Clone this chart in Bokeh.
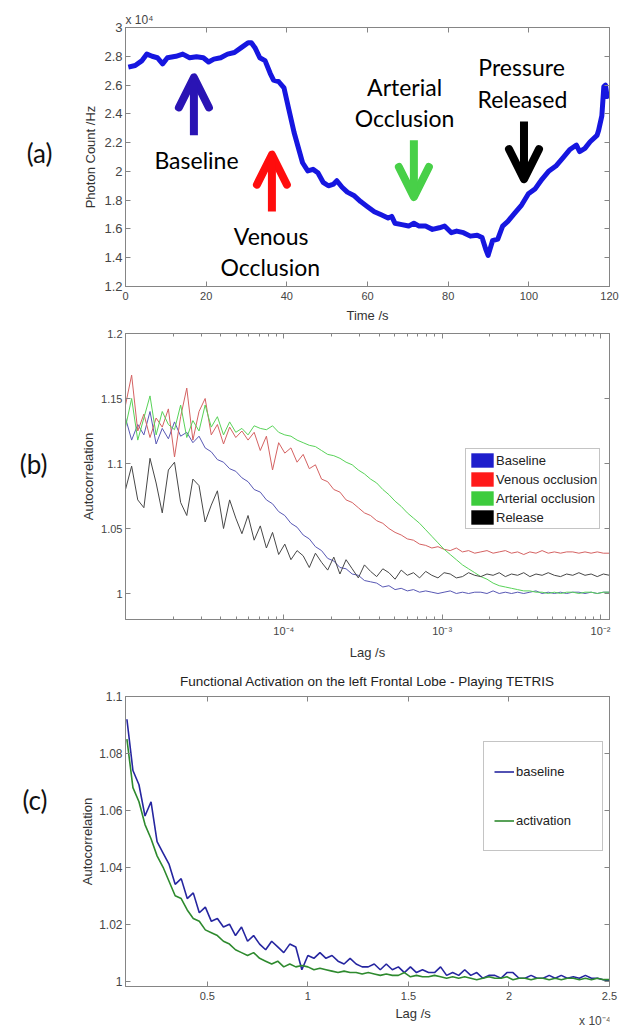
import numpy as np
from bokeh.plotting import figure
from bokeh.layouts import column
from bokeh.models import (FixedTicker, CustomJSTickFormatter, LinearAxis, LogAxis, Axis,
                          Legend, LegendItem, Arrow, OpenHead)
from bokeh.core.properties import value
from bokeh.embed import file_html
from bokeh.resources import INLINE

# ---------------- Panel (a): photon count vs time (units of 1e4 Hz) ----------------
time_s = [0.7, 2.4, 4.1, 5.3, 6.6, 7.9, 9.2, 10.4, 12.5, 14.2,
          15.9, 17.6, 19.3, 20.6, 21.9, 23.6, 25.3, 27.0, 28.7, 30.4,
          31.2, 32.1, 33.3, 34.6, 35.9, 36.7, 38.0, 39.3, 40.5, 41.8,
          43.1, 43.9, 45.2, 46.5, 47.7, 49.0, 50.3, 51.6, 52.4, 53.7,
          55.0, 56.6, 58.3, 60.0, 61.7, 63.4, 65.1, 66.0, 66.8, 68.5,
          70.2, 71.5, 72.8, 74.4, 76.1, 77.8, 79.1, 80.8, 82.1, 83.8,
          85.5, 87.2, 88.4, 89.3, 89.9, 91.0, 92.3, 93.5, 94.8, 96.5,
          98.2, 99.9, 101.6, 103.3, 105.0, 106.7, 108.4, 110.1, 111.8, 112.6,
          113.9, 115.2, 116.9, 117.3, 118.1, 118.6, 119.0, 119.4, 119.8]
photon_1e4 = [2.725, 2.736, 2.77, 2.815, 2.80, 2.79, 2.747, 2.79, 2.80, 2.815,
              2.79, 2.797, 2.79, 2.76, 2.78, 2.79, 2.815, 2.826, 2.86, 2.894,
              2.894, 2.86, 2.79, 2.77, 2.68, 2.635, 2.623, 2.58, 2.43, 2.27,
              2.14, 2.06, 2.003, 2.014, 1.99, 1.924, 1.90, 1.912, 1.935, 1.89,
              1.856, 1.833, 1.79, 1.755, 1.72, 1.698, 1.676, 1.687, 1.64, 1.63,
              1.62, 1.64, 1.62, 1.62, 1.597, 1.608, 1.62, 1.574, 1.585, 1.574,
              1.55, 1.556, 1.54, 1.46, 1.416, 1.518, 1.53, 1.62, 1.653, 1.71,
              1.766, 1.845, 1.88, 1.947, 2.003, 2.037, 2.093, 2.15, 2.183, 2.138,
              2.16, 2.206, 2.25, 2.285, 2.386, 2.59, 2.60, 2.52, 2.555]

a_xticks = [0, 20, 40, 60, 80, 100, 120]
a_yticks = [1.2, 1.4, 1.6, 1.8, 2.0, 2.2, 2.4, 2.6, 2.8, 3.0]

# annotation arrows (data units): x, tail, tip, colour
arrow_x = [16.96, 36.3, 71.5, 98.8]
arrow_tail = [2.251, 1.721, 2.217, 2.346]
arrow_tip = [2.653, 2.116, 1.822, 1.946]
arrow_color = ["#2a14b4", "#ff0d0d", "#48d048", "#000000"]

note_text = ["Baseline", "Venous", "Occlusion", "Arterial", "Occlusion", "Pressure", "Released"]
note_x = [17.6, 36.1, 35.9, 69.2, 69.2, 98.2, 98.4]
note_y = [2.082, 1.552, 1.337, 2.589, 2.368, 2.725, 2.504]

# ---------------- Panel (b): autocorrelation vs log lag ----------------
lag_b = 10 ** np.linspace(-5.0, -1.943, 80)
b_baseline = [1.135, 1.118, 1.130, 1.122, 1.140, 1.115, 1.127, 1.119, 1.132, 1.121,
              1.124, 1.116, 1.121, 1.112, 1.109, 1.103, 1.101, 1.096, 1.094, 1.089,
              1.086, 1.080, 1.078, 1.072, 1.069, 1.063, 1.060, 1.054, 1.051, 1.045,
              1.042, 1.036, 1.033, 1.027, 1.025, 1.020, 1.019, 1.015, 1.014, 1.010,
              1.009, 1.008, 1.005, 1.006, 1.003, 1.004, 1.002, 1.003, 1.001, 1.002,
              1.001, 1.000, 1.001, 1.002, 1.000, 1.001, 1.000, 1.001, 1.001, 1.000,
              1.002, 1.000, 1.001, 1.000, 1.001, 1.000, 1.001, 1.002, 1.000, 1.001,
              1.000, 1.001, 1.000, 1.001, 1.001, 1.000, 1.001, 1.000, 1.001, 1.001]
b_venous = [1.145, 1.168, 1.125, 1.138, 1.120, 1.135, 1.128, 1.142, 1.105, 1.136,
            1.158, 1.118, 1.140, 1.150, 1.122, 1.130, 1.115, 1.128, 1.120, 1.125,
            1.118, 1.124, 1.110, 1.121, 1.095, 1.116, 1.108, 1.112, 1.101, 1.107,
            1.096, 1.099, 1.088, 1.086, 1.080, 1.078, 1.072, 1.070, 1.066, 1.062,
            1.060, 1.056, 1.054, 1.050, 1.047, 1.045, 1.042, 1.041, 1.038, 1.037,
            1.035, 1.036, 1.034, 1.033, 1.035, 1.032, 1.033, 1.031, 1.032, 1.033,
            1.031, 1.032, 1.033, 1.031, 1.032, 1.030, 1.032, 1.031, 1.033, 1.031,
            1.032, 1.031, 1.032, 1.032, 1.031, 1.032, 1.031, 1.032, 1.031, 1.031]
b_arterial = [1.128, 1.150, 1.118, 1.135, 1.152, 1.122, 1.140, 1.130, 1.126, 1.145,
              1.120, 1.133, 1.125, 1.145, 1.128, 1.136, 1.122, 1.132, 1.124, 1.127,
              1.122, 1.129, 1.127, 1.126, 1.129, 1.124, 1.122, 1.121, 1.118, 1.116,
              1.114, 1.113, 1.110, 1.107, 1.106, 1.104, 1.101, 1.099, 1.095, 1.092,
              1.088, 1.085, 1.080, 1.076, 1.071, 1.067, 1.062, 1.058, 1.054, 1.049,
              1.044, 1.039, 1.034, 1.030, 1.026, 1.022, 1.019, 1.016, 1.013, 1.011,
              1.008, 1.006, 1.005, 1.004, 1.003, 1.002, 1.002, 1.001, 1.001, 1.000,
              1.001, 1.000, 1.001, 1.001, 1.000, 1.001, 1.001, 1.000, 1.001, 1.001]
b_release = [1.080, 1.098, 1.072, 1.066, 1.104, 1.085, 1.062, 1.095, 1.101, 1.070,
             1.060, 1.088, 1.083, 1.055, 1.068, 1.079, 1.050, 1.072, 1.058, 1.046,
             1.060, 1.041, 1.052, 1.035, 1.047, 1.030, 1.038, 1.026, 1.033, 1.029,
             1.020, 1.031, 1.024, 1.018, 1.028, 1.015, 1.026, 1.019, 1.012, 1.022,
             1.017, 1.013, 1.019, 1.016, 1.011, 1.018, 1.014, 1.016, 1.012, 1.017,
             1.014, 1.012, 1.016, 1.015, 1.012, 1.013, 1.016, 1.014, 1.013, 1.015,
             1.014, 1.016, 1.013, 1.015, 1.014, 1.016, 1.013, 1.015, 1.014, 1.016,
             1.014, 1.013, 1.015, 1.014, 1.016, 1.014, 1.015, 1.013, 1.015, 1.014]
b_names = ["Baseline", "Venous occlusion", "Arterial occlusion", "Release"]
b_line_colors = ["#5858b4", "#d46262", "#58d258", "#474747"]
b_patch_colors = ["#1e1ecc", "#ff1a1a", "#3dcc3d", "#000000"]
b_xticks = [1e-4, 1e-3, 1e-2]
b_yticks = [1.0, 1.05, 1.1, 1.15, 1.2]

# ---------------- Panel (c): functional activation (lag in units of 1e-4 s) ----------------
lag_c = np.round(np.arange(0.10, 2.5001, 0.03), 2)
c_baseline = [1.092, 1.074, 1.069, 1.058, 1.063, 1.049, 1.045, 1.041, 1.034, 1.036,
              1.029, 1.031, 1.024, 1.026, 1.021, 1.022, 1.019, 1.020, 1.016, 1.019,
              1.014, 1.016, 1.013, 1.011, 1.014, 1.012, 1.010, 1.013, 1.012, 1.004,
              1.009, 1.008, 1.010, 1.008, 1.009, 1.007, 1.006, 1.008, 1.006, 1.005,
              1.005, 1.006, 1.004, 1.006, 1.004, 1.005, 1.003, 1.005, 1.003, 1.004,
              1.003, 1.003, 1.005, 1.002, 1.003, 1.002, 1.004, 1.002, 1.003, 1.001,
              1.002, 1.002, 1.001, 1.003, 1.003, 1.001, 1.001, 1.002, 1.001, 1.001,
              1.002, 1.001, 1.002, 1.001, 1.0015, 1.001, 1.002, 1.001, 1.001, 1.0005,
              1.000]
c_activation = [1.085, 1.068, 1.063, 1.055, 1.050, 1.044, 1.040, 1.035, 1.030, 1.029,
                1.025, 1.022, 1.021, 1.018, 1.017, 1.016, 1.014, 1.013, 1.011, 1.010,
                1.009, 1.010, 1.008, 1.007, 1.006, 1.007, 1.005, 1.006, 1.005, 1.0055,
                1.005, 1.004, 1.0045, 1.004, 1.0035, 1.003, 1.0035, 1.003, 1.003, 1.0025,
                1.003, 1.0025, 1.002, 1.0025, 1.002, 1.002, 1.003, 1.0015, 1.002, 1.0015,
                1.0015, 1.002, 1.0015, 1.001, 1.0015, 1.001, 1.0015, 1.001, 1.0005, 1.001,
                1.0015, 1.001, 1.001, 1.0015, 1.0005, 1.001, 1.001, 1.0005, 1.001, 1.001,
                1.0005, 1.001, 1.0005, 1.001, 1.001, 1.0005, 1.001, 1.0005, 1.001, 1.0005,
                1.0005]
c_names = ["baseline", "activation"]
c_colors = ["#2626a0", "#2e8a2e"]
c_xticks = [0.5, 1.0, 1.5, 2.0, 2.5]
c_yticks = [1.0, 1.02, 1.04, 1.06, 1.08, 1.1]

# footer texts under panel (c): x-axis title and the axis multiplier
foot_text = ["Lag /s", "x 10\u207b\u2074"]
foot_x = [369, 582]
foot_y = [7, 14]

# ---------------- styling helpers ----------------
AXC = "#858585"
TICKC = "#454545"
SANS = "Liberation Sans"


def num_formatter():
    return CustomJSTickFormatter(code="return String(Number(tick.toFixed(2)));")


def text_formatter(txt):
    return CustomJSTickFormatter(args=dict(txt=txt), code="return txt;")


def log_formatter():
    return CustomJSTickFormatter(code="""
        const e = Math.round(Math.log10(tick));
        const m = {'-':'\u207b','0':'\u2070','1':'\u00b9','2':'\u00b2','3':'\u00b3','4':'\u2074','5':'\u2075'};
        return '10' + String(e).split('').map(c => m[c]).join('');
    """)


def finish(p, xticker, yticker, tick_size, label_size, xlog=False, xstand=4, ystand=3,
           xlab_stand=0, ylab_stand=2):
    p.xaxis.ticker = xticker
    p.yaxis.ticker = yticker
    p.xaxis.formatter = log_formatter() if xlog else num_formatter()
    p.yaxis.formatter = num_formatter()
    top = (LogAxis if xlog else LinearAxis)(ticker=xticker, formatter=text_formatter(""))
    right = LinearAxis(ticker=yticker, formatter=text_formatter(""))
    for ax in (top, right):
        ax.major_label_text_font_size = "1px"
        ax.major_label_standoff = 0
    p.add_layout(top, "above")
    p.add_layout(right, "right")
    for ax in p.select(type=Axis):
        ax.axis_line_color = AXC
        ax.major_tick_line_color = AXC
        ax.minor_tick_line_color = AXC
        ax.major_tick_in = 5
        ax.major_tick_out = 0
        ax.minor_tick_in = 3
        ax.minor_tick_out = 0
        ax.major_label_text_font = SANS
        ax.major_label_text_color = TICKC
        ax.axis_label_text_font = SANS
        ax.axis_label_text_font_style = "normal"
        ax.axis_label_text_color = "#333333"
        ax.axis_label_text_font_size = label_size
    p.xaxis[0].major_label_text_font_size = tick_size
    p.yaxis[0].major_label_text_font_size = tick_size
    p.xaxis[0].major_label_standoff = xstand
    p.yaxis[0].major_label_standoff = ystand
    p.xaxis[0].axis_label_standoff = xlab_stand
    p.yaxis[0].axis_label_standoff = ylab_stand
    p.xgrid.visible = False
    p.ygrid.visible = False
    p.outline_line_color = AXC
    p.background_fill_color = "white"
    p.border_fill_color = "white"


def text_axis(txt, at, standoff, font, size, color):
    """An axis without line or ticks whose only tick label is a piece of text."""
    ax = LinearAxis(ticker=FixedTicker(ticks=[at]), formatter=text_formatter(txt))
    ax.axis_line_color = None
    ax.major_tick_line_color = None
    ax.minor_tick_line_color = None
    ax.major_tick_in = 0
    ax.major_tick_out = 0
    ax.major_label_standoff = standoff
    ax.major_label_text_font = font
    ax.major_label_text_font_size = size
    ax.major_label_text_color = color
    return ax


# ---------------- figure (a) ----------------
pa = figure(width=621, height=325, x_range=(0, 120), y_range=(1.2, 3.0),
            title="x 10\u2074",
            output_backend="svg", toolbar_location=None,
            min_border_left=122, min_border_right=12, min_border_top=27, min_border_bottom=34)
pa.title.text_font = SANS
pa.title.text_font_size = "12px"
pa.title.text_font_style = "normal"
pa.title.text_color = TICKC
pa.title.align = "left"
pa.title.standoff = 1
pa.line(time_s, photon_1e4, line_color="#1616e0", line_width=5, line_join="round")
for xa, t0, t1, col in zip(arrow_x, arrow_tail, arrow_tip, arrow_color):
    pa.add_layout(Arrow(x_start=xa, y_start=t0, x_end=xa, y_end=t1, line_color=col,
                        line_width=8,
                        end=OpenHead(size=30, line_width=8, line_color=col,
                                     line_join="round", line_cap="round")))
pa.text(x=note_x, y=note_y, text=note_text, text_font=value("Lato"),
        text_font_size="23px", text_align="center", text_baseline="middle",
        text_color="#000000")
pa.xaxis.axis_label = "Time /s"
pa.yaxis.axis_label = "Photon Count /Hz"
finish(pa, FixedTicker(ticks=a_xticks), FixedTicker(ticks=a_yticks), "13px", "13px",
       xstand=3, ystand=3, xlab_stand=-2, ylab_stand=3)
pa.add_layout(text_axis("(a)", 2.127, 28, "Lato", "26px", "#111111"), "left")

# ---------------- figure (b) ----------------
pb = figure(width=621, height=337, x_axis_type="log", x_range=(1e-5, 1.14e-2),
            y_range=(0.98, 1.2), output_backend="svg", toolbar_location=None,
            min_border_left=124, min_border_right=10, min_border_top=8, min_border_bottom=36)
b_series = [b_baseline, b_venous, b_arterial, b_release]
for ys, col in zip(b_series, b_line_colors):
    pb.line(lag_b, ys, line_color=col, line_width=1)
b_minor = [k * 10.0 ** e for e in (-5, -4, -3, -2) for k in range(2, 10)]
b_items = []
for ys, name, col in zip(b_series, b_names, b_patch_colors):
    # zero-size swatch renderer: only its legend entry is visible
    r = pb.rect(x=[lag_b[0]], y=[ys[0]], width=0, height=0, fill_color=col, line_color=None)
    b_items.append(LegendItem(label=name, renderers=[r]))
pb.add_layout(Legend(items=b_items, location=(340, 90), padding=2, spacing=1,
                     glyph_width=28, glyph_height=18, label_height=18, label_standoff=0,
                     label_text_font=SANS, label_text_font_size="13px",
                     label_text_color="#222222", border_line_color="#8a8a8a",
                     background_fill_color="white", margin=0))
pb.xaxis.axis_label = "Lag /s"
pb.yaxis.axis_label = "Autocorrelation"
finish(pb, FixedTicker(ticks=b_xticks, minor_ticks=b_minor), FixedTicker(ticks=b_yticks),
       "11px", "13px", xlog=True, xstand=6, ystand=3, xlab_stand=0, ylab_stand=2)
pb.add_layout(text_axis("(b)", 1.100, 31, "Lato", "26px", "#111111"), "left")

# ---------------- figure (c) ----------------
pc = figure(width=621, height=344, x_range=(0.093, 2.5), y_range=(0.9981, 1.1),
            title="Functional Activation on the left Frontal Lobe - Playing TETRIS",
            output_backend="svg", toolbar_location=None,
            min_border_left=125, min_border_right=8, min_border_top=34, min_border_bottom=20)
pc.title.text_font = SANS
pc.title.text_font_size = "13.5px"
pc.title.text_font_style = "normal"
pc.title.text_color = "#222222"
pc.title.align = "center"
pc.title.standoff = 16
c_items = []
for ys, col, name in zip([c_baseline, c_activation], c_colors, c_names):
    r = pc.line(lag_c, ys, line_color=col, line_width=1.6)
    c_items.append(LegendItem(label=name, renderers=[r]))
pc.add_layout(Legend(items=c_items, location=(358, 135), padding=10, spacing=10,
                     glyph_width=20, glyph_height=39, label_height=39, label_standoff=2,
                     label_width=76, label_text_font=SANS, label_text_font_size="13px",
                     label_text_color="#222222", border_line_color="#8a8a8a",
                     background_fill_color="white", margin=0))
pc.yaxis.axis_label = "Autocorrelation"
finish(pc, FixedTicker(ticks=c_xticks), FixedTicker(ticks=c_yticks), "12px", "13px",
       xstand=6, ystand=3, xlab_stand=0, ylab_stand=1)
pc.add_layout(text_axis("(c)", 1.0635, 30, "Lato", "26px", "#111111"), "left")

# footer strip holding the x-axis title of (c) and its multiplier
pf = figure(width=621, height=21, x_range=(0, 621), y_range=(21, 0),
            output_backend="svg", toolbar_location=None, min_border=0,
            x_axis_location=None, y_axis_location=None)
pf.outline_line_color = None
pf.grid.visible = False
pf.text(x=foot_x[:1], y=foot_y[:1], text=foot_text[:1], text_font=value(SANS),
        text_font_size="13px", text_align="center", text_baseline="middle",
        text_color="#333333")
pf.text(x=foot_x[1:], y=foot_y[1:], text=foot_text[1:], text_font=value(SANS),
        text_font_size="12px", text_align="left", text_baseline="middle",
        text_color=TICKC)

layout = column(pa, pb, pc, pf, spacing=0)
open("out.html", "w").write(file_html(layout, INLINE))
